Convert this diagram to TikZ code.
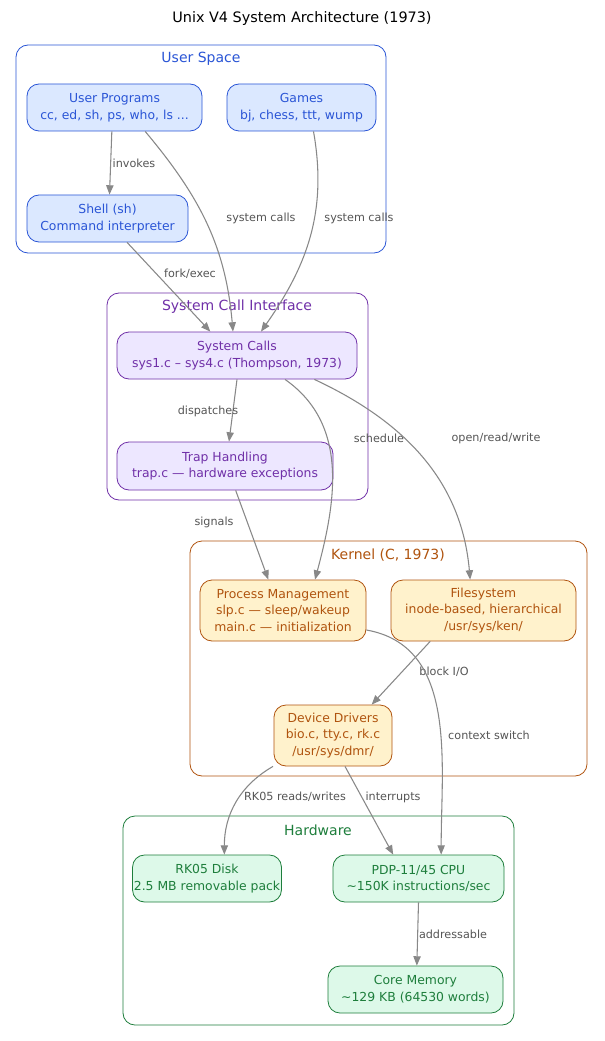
\documentclass[tikz,border=0pt]{standalone}
\usepackage{fontspec}
\setmainfont{DejaVu Sans}
\usetikzlibrary{arrows.meta}
\definecolor{bS}{HTML}{2A55D6}\definecolor{bF}{HTML}{DBE8FF}
\definecolor{pS}{HTML}{7030A8}\definecolor{pF}{HTML}{EDE7FF}
\definecolor{oS}{HTML}{B0540F}\definecolor{oF}{HTML}{FFF2CC}
\definecolor{gS}{HTML}{1E7E3C}\definecolor{gF}{HTML}{DDF9E9}
\definecolor{eC}{HTML}{888888}\definecolor{lC}{HTML}{555555}
\begin{document}
\begin{tikzpicture}[x=0.75pt,y=-0.75pt,
 clus/.style={draw=#1,rounded corners=9pt,line width=0.6pt},
 box/.style n args={4}{draw=#1,fill=#2,text=#1,rounded corners=9pt,line width=0.6pt,
   minimum width=#3*0.75pt,minimum height=#4*0.75pt,align=center,font=\fontsize{9.3}{12.5}\selectfont,inner sep=1pt},
 ub/.style n args={2}{box={bS}{bF}{#1}{#2}},
 pb/.style n args={2}{box={pS}{pF}{#1}{#2}},
 ob/.style n args={2}{box={oS}{oF}{#1}{#2}},
 gb/.style n args={2}{box={gS}{gF}{#1}{#2}},
 ctitle/.style={text=#1,font=\fontsize{10.5}{12}\selectfont},
 e/.style={draw=eC,line width=0.8pt,-{Triangle[length=7pt,width=5.5pt]}},
 el/.style={text=lC,font=\fontsize{8.4}{9}\selectfont,inner sep=1pt}]
\useasboundingbox[fill=white] (0,0) rectangle (604,1041);
\node (title) at (302,19) {\fontsize{10.8}{12}\selectfont Unix V4 System Architecture (1973)};
% clusters
\draw[clus=bS] (16,45) rectangle (386,253);
\node[ctitle=bS] (usl) at (201,59) {User Space};
\draw[clus=pS] (107,293) rectangle (368,500);
\node[ctitle=pS] (scl) at (237,307) {System Call Interface};
\draw[clus=oS] (190,541) rectangle (587,776);
\node[ctitle=oS] (kl) at (388,555) {Kernel (C, 1973)};
\draw[clus=gS] (123,816) rectangle (514,1025);
\node[ctitle=gS] (hl) at (318,830) {Hardware};
% nodes
\node[ub={175}{47}] (up) at (114.5,107.5) {User Programs\\cc, ed, sh, ps, who, ls ...};
\node[ub={149}{47}] (games) at (301.5,107.5) {Games\\bj, chess, ttt, wump};
\node[ub={161}{47}] (shell) at (107.5,218.5) {Shell (sh)\\Command interpreter};
\node[pb={240}{47}] (sc) at (237,355.5) {System Calls\\sys1.c – sys4.c (Thompson, 1973)};
\node[pb={216}{48}] (trap) at (225,466) {Trap Handling\\trap.c — hardware exceptions};
\node[ob={166}{61}] (proc) at (283,610.5) {Process Management\\slp.c — sleep/wakeup\\main.c — initialization};
\node[ob={185}{61}] (fs) at (483.5,610.5) {Filesystem\\inode-based, hierarchical\\/usr/sys/ken/};
\node[ob={118}{61}] (dd) at (333,735.5) {Device Drivers\\bio.c, tty.c, rk.c\\/usr/sys/dmr/};
\node[gb={146}{47}] (rk) at (207,878.5) {RK05 Disk\\2.5 MB removable pack};
\node[gb={171}{47}] (cpu) at (418.5,878.5) {PDP-11/45 CPU\\\textasciitilde150K instructions/sec};
\node[gb={175}{47}] (core) at (415.5,989.5) {Core Memory\\\textasciitilde129 KB (64530 words)};
% edges
\draw[e] ([xshift=-2pt]up.south) -- ([xshift=1.5pt]shell.north);
\node[el] (l1) at (134,163) {invokes};
\draw[e] ([xshift=23pt]up.south) to[out=-50,in=95] ([xshift=-3pt]sc.north);
\node[el] (l2) at (261,218) {system calls};
\draw[e] ([xshift=9pt]games.south) to[out=-80,in=55] ([xshift=18pt]sc.north);
\node[el] (l3) at (359,218) {system calls};
\draw[e] ([xshift=-46pt]shell.south east) -- ([xshift=-20pt]sc.north);
\node[el] (l4) at (190,274) {fork/exec};
\draw[e] (sc.south) -- ([xshift=3pt]trap.north);
\node[el] (l5) at (208,411) {dispatches};
\draw[e] ([xshift=36pt]sc.south) to[out=-35,in=75] ([xshift=24pt]proc.north);
\node[el] (l6) at (379,438) {schedule};
\draw[e] ([xshift=58pt]sc.south) to[out=-25,in=95] ([xshift=-10pt]fs.north);
\node[el] (l7) at (496,438) {open/read/write};
\draw[e] ([xshift=8pt]trap.south) -- ([xshift=-11pt]proc.north);
\node[el] (l8) at (214,522) {signals};
\draw[e] ([xshift=-40pt]fs.south) -- ([xshift=29pt]dd.north);
\node[el] (l9) at (444,672) {block I/O};
\draw[e] (proc.east |- 0,630) to[out=-10,in=90] ([xshift=17pt]cpu.north);
\node[el] (l10) at (489,735) {context switch};
\draw[e] ([xshift=-45pt]dd.south) to[out=-150,in=90] ([xshift=13pt]rk.north);
\node[el] (l11) at (295,797) {RK05 reads/writes};
\draw[e] ([xshift=9pt]dd.south) -- ([xshift=-19pt]cpu.north);
\node[el] (l12) at (393,797) {interrupts};
\draw[e] (cpu.south) -- ([xshift=1pt]core.north);
\node[el] (l13) at (453,934) {addressable};
\end{tikzpicture}
\end{document}
